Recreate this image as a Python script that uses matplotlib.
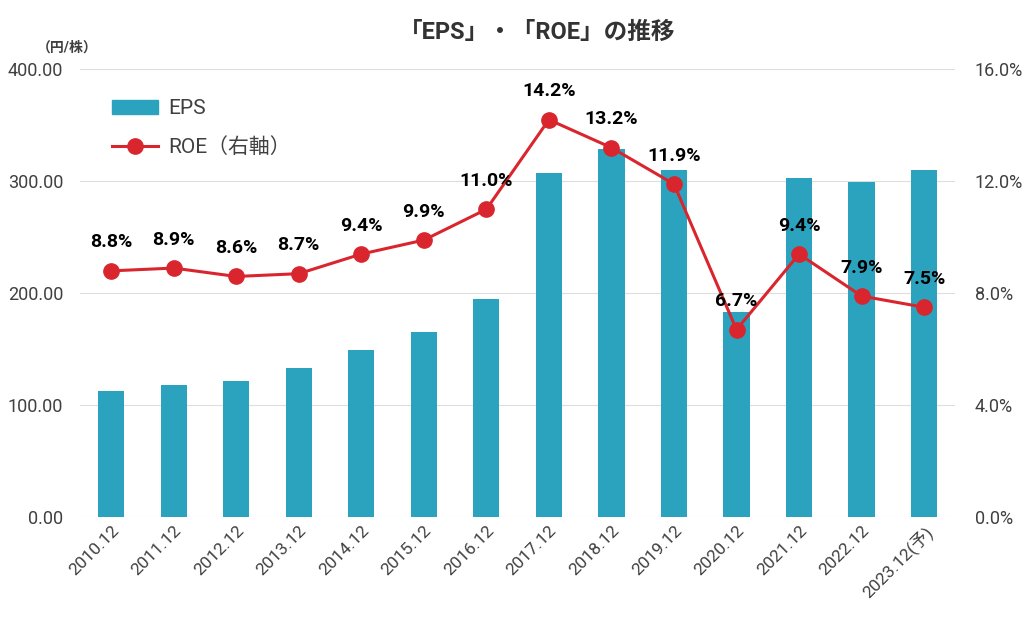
import numpy as np
import matplotlib
matplotlib.use("Agg")
import matplotlib.pyplot as plt
from matplotlib.lines import Line2D
from matplotlib.patches import Patch

plt.rcParams['font.family'] = ['Roboto', 'Noto Sans CJK JP', 'DejaVu Sans']

years = ["2010.12", "2011.12", "2012.12", "2013.12", "2014.12", "2015.12", "2016.12",
         "2017.12", "2018.12", "2019.12", "2020.12", "2021.12", "2022.12", "2023.12(予)"]
eps = [113, 118, 122, 133, 149, 165, 195, 307, 329, 310, 183, 303, 299, 310]
roe = [8.8, 8.9, 8.6, 8.7, 9.4, 9.9, 11.0, 14.2, 13.2, 11.9, 6.7, 9.4, 7.9, 7.5]

bar_color = "#2BA3BF"
line_color = "#D9262E"
text_color = "#404040"

fig = plt.figure(figsize=(10.24, 6.3), dpi=100)
ax = fig.add_axes([0.078, 0.179, 0.855, 0.711])
x = np.arange(len(years))

ax.bar(x, eps, width=0.42, color=bar_color, zorder=2)
ax.set_ylim(0, 400)
ax.set_xlim(-0.5, len(years) - 0.5)
ax.set_yticks([0, 100, 200, 300, 400])
ax.set_yticklabels(["%.2f" % v for v in [0, 100, 200, 300, 400]])
ax.grid(axis='y', color="#dddddd", linewidth=0.8, zorder=0)
for s in ax.spines.values():
    s.set_visible(False)
ax.tick_params(axis='y', length=0, pad=12, labelsize=13, labelcolor=text_color)
ax.tick_params(axis='x', length=0, pad=4, labelsize=12.5, labelcolor=text_color)
ax.set_xticks(x)
ax.set_xticklabels(years, rotation=45, ha='right', rotation_mode='anchor')

ax2 = ax.twinx()
ax2.set_ylim(0, 16)
ax2.set_yticks([0, 4, 8, 12, 16])
ax2.set_yticklabels(["%.1f%%" % v for v in [0, 4, 8, 12, 16]])
for s in ax2.spines.values():
    s.set_visible(False)
ax2.tick_params(axis='y', length=0, pad=14, labelsize=13, labelcolor=text_color)
ax2.plot(x, roe, color=line_color, linewidth=2.2, marker='o', markersize=11, zorder=3)
for xi, v in zip(x, roe):
    ax2.annotate("%.1f%%" % v, (xi, v), xytext=(0, 14), textcoords='offset points',
                 ha='center', va='bottom', fontsize=14, fontweight='bold', color='black')

fig.text(0.066, 0.918, "（円/株）", fontsize=10, color=text_color, ha='center', fontweight='bold')
fig.text(0.525, 0.948, "「EPS」・「ROE」の推移", fontsize=17, fontweight='bold',
         color="#333333", ha='center', va='center')

handles = [Patch(color=bar_color, label="EPS"),
           Line2D([0], [0], color=line_color, linewidth=2.2, marker='o', markersize=11, label="ROE（右軸）")]
leg = ax.legend(handles=handles, loc='upper left', bbox_to_anchor=(0.015, 0.975), frameon=False,
                fontsize=15, handlelength=2.2, labelspacing=0.9, handletextpad=0.5)
for t in leg.get_texts():
    t.set_color(text_color)

fig.savefig("out.png", dpi=100)
